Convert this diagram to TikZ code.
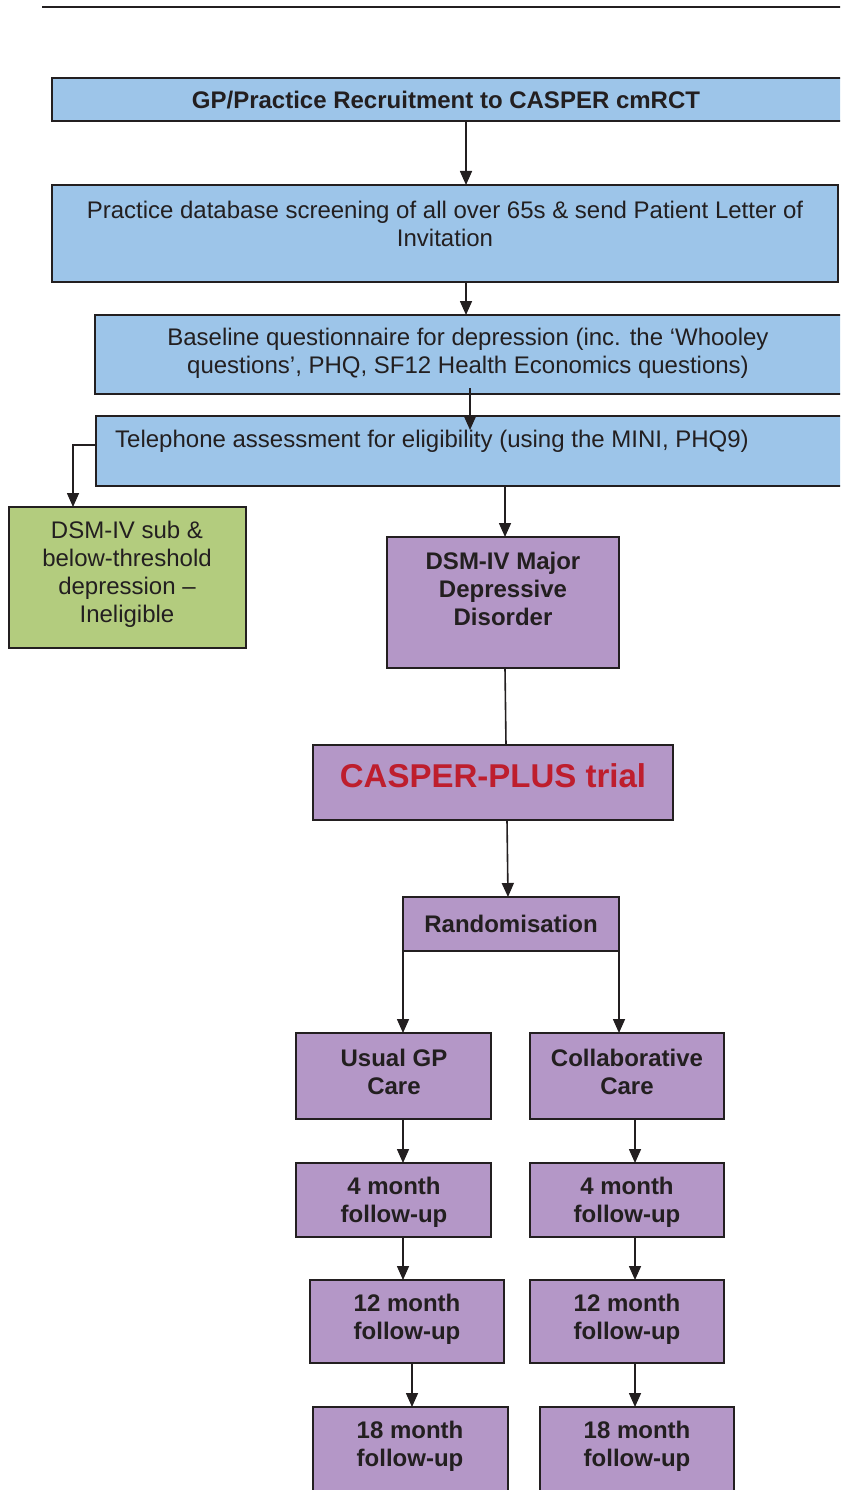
\documentclass[tikz,border=0pt]{standalone}
\usepackage{fontspec}
\setmainfont{Liberation Sans}
\usetikzlibrary{arrows.meta}
\definecolor{bord}{RGB}{35,31,32}
\definecolor{bluef}{RGB}{157,197,233}
\definecolor{purf}{RGB}{180,151,199}
\definecolor{grnf}{RGB}{179,204,126}
\definecolor{redt}{RGB}{190,30,45}
\tikzset{
  boxbase/.style={draw=bord, line width=1.6pt, inner sep=0pt, outer sep=0pt},
  bluebox/.style={boxbase, fill=bluef},
  purbox/.style={boxbase, fill=purf},
  grnbox/.style={boxbase, fill=grnf},
  txt/.style={font=\fontsize{24}{28}\selectfont, inner sep=0pt, align=center, text=bord},
  btxt/.style={txt, font=\fontsize{24}{28}\selectfont\bfseries},
  arr/.style={draw=bord, line width=1.6pt, -{Triangle[length=14pt,width=12pt]}},
  plain/.style={draw=bord, line width=1.6pt}
}
\newcommand\mybox[6]{\node[#6, minimum width={#4-#2}, minimum height={#5-#3}] (#1) at ({(#2+#4)/2},{-(#3+#5)/2}) {};}
\begin{document}
\begin{tikzpicture}[x=1pt,y=1pt]
\useasboundingbox (0,0) rectangle (840,-1490);
\clip (0,0) rectangle (840,-1490);
\draw[draw=bord, line width=2pt] (42,-7) -- (850,-7);
% boxes
\mybox{b1}{52}{78}{850}{121}{bluebox}
\mybox{b2}{52}{185}{838}{282}{bluebox}
\mybox{b3}{95}{315}{850}{394}{bluebox}
\mybox{b4}{96}{416}{850}{486}{bluebox}
\mybox{g}{9}{507}{246}{648}{grnbox}
\mybox{mdd}{387}{537}{619}{668}{purbox}
\mybox{cp}{313}{745}{673}{820}{purbox}
\mybox{rnd}{403}{897}{619}{951}{purbox}
\mybox{ug}{296}{1033}{491}{1119}{purbox}
\mybox{cc}{530}{1033}{724}{1119}{purbox}
\mybox{ugf}{296}{1163}{491}{1237}{purbox}
\mybox{ccf}{530}{1163}{724}{1237}{purbox}
\mybox{ugt}{310}{1280}{504}{1363}{purbox}
\mybox{cct}{530}{1280}{724}{1363}{purbox}
\mybox{uge}{313}{1407}{508}{1500}{purbox}
\mybox{cce}{540}{1407}{734}{1500}{purbox}
% texts
\node[btxt] (t1) at (446,-100) {GP/Practice Recruitment to CASPER cmRCT};
\node[txt] (t2) at (445,-223.5) {Practice database screening of all over 65s \& send Patient Letter of\\Invitation};
\node[txt] (t3) at (468,-353.5) {Baseline questionnaire for depression (inc. the ‘Whooley\\questions’, PHQ, SF12 Health Economics questions)};
\node[txt, anchor=west] (t4) at (115,-441) {Telephone assessment for eligibility (using the MINI, PHQ9)};
\node[txt] (tg) at (127,-574) {DSM-IV sub \&\\below-threshold\\depression –\\Ineligible};
\node[btxt] (tm) at (503,-589) {DSM-IV Major\\Depressive\\Disorder};
\node[btxt, font=\fontsize{33}{38}\selectfont\bfseries, text=redt] (tcp) at (493,-776) {CASPER-PLUS trial};
\node[btxt] (tr) at (511,-924) {Randomisation};
\node[btxt] (tug) at (394,-1071.5) {Usual GP\\Care};
\node[btxt] (tcc) at (627,-1071.5) {Collaborative\\Care};
\node[btxt] (tugf) at (394,-1202) {4 month\\follow-up};
\node[btxt] (tccf) at (627,-1202) {4 month\\follow-up};
\node[btxt] (tugt) at (407,-1319) {12 month\\follow-up};
\node[btxt] (tcct) at (627,-1319) {12 month\\follow-up};
\node[btxt] (tuge) at (410,-1446) {18 month\\follow-up};
\node[btxt] (tcce) at (637,-1446) {18 month\\follow-up};
% connectors
\draw[arr] ([xshift=414pt]b1.south west) -- ([xshift=414pt]b2.north west);
\draw[arr] ([xshift=414pt]b2.south west) -- ([xshift=371pt]b3.north west);
\draw[arr] ([xshift=375pt,yshift=6pt]b3.south west) -- ([xshift=374pt,yshift=-14pt]b4.north west);
\draw[arr] ([yshift=-29pt]b4.north west) -| ([xshift=64pt]g.north west);
\draw[arr] ([xshift=409pt]b4.south west) -- ([xshift=118pt]mdd.north west);
\draw[plain] ([xshift=118pt]mdd.south west) -- ([xshift=193pt]cp.north west);
\draw[arr] ([xshift=194pt]cp.south west) -- ([xshift=105pt]rnd.north west);
\draw[arr] (rnd.south west) -- ([xshift=107pt]ug.north west);
\draw[arr] (rnd.south east) -- ([xshift=89pt]cc.north west);
\draw[arr] ([xshift=107pt]ug.south west) -- ([xshift=107pt]ugf.north west);
\draw[arr] ([xshift=105pt]cc.south west) -- ([xshift=105pt]ccf.north west);
\draw[arr] ([xshift=107pt]ugf.south west) -- ([xshift=93pt]ugt.north west);
\draw[arr] ([xshift=105pt]ccf.south west) -- ([xshift=105pt]cct.north west);
\draw[arr] ([xshift=102pt]ugt.south west) -- ([xshift=99pt]uge.north west);
\draw[arr] ([xshift=105pt]cct.south west) -- ([xshift=95pt]cce.north west);
\end{tikzpicture}
\end{document}
